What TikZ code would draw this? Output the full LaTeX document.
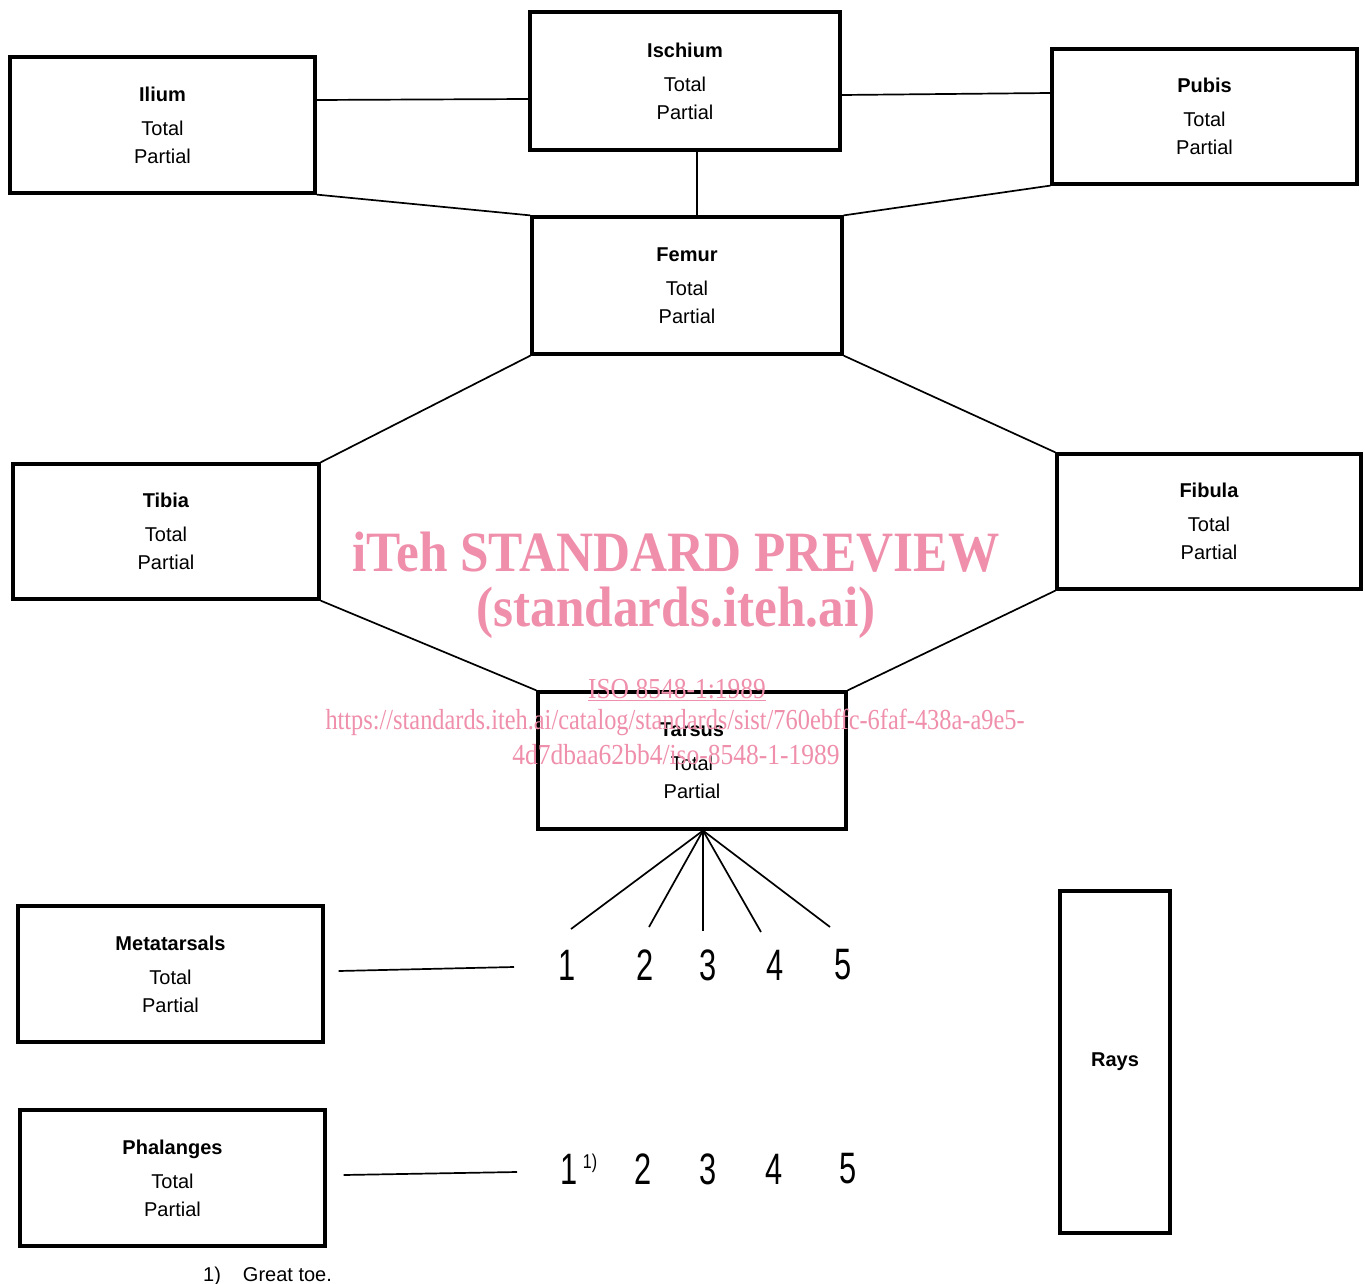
\documentclass[tikz,border=0pt]{standalone}
\usepackage{fontspec}
\setmainfont{Liberation Sans}
\newfontfamily\wmfont{Liberation Serif}
\usetikzlibrary{calc}
\definecolor{wm}{RGB}{239,143,171}
\newcommand\bxtext[1]{\textbf{#1}\\[6pt]Total\\Partial}
\begin{document}
\begin{tikzpicture}[x=1pt,y=-1pt,
 box/.style={draw, line width=3.2pt, inner sep=0pt, align=center, font=\fontsize{20}{28}\selectfont},
 link/.style={line width=1.7pt},
 num/.style={font=\fontsize{44}{44}\selectfont, inner sep=0pt},
 wmbig/.style={text=wm, inner sep=0pt, font=\wmfont\bfseries\fontsize{57}{60}\selectfont},
 wmsmall/.style={text=wm, inner sep=0pt, font=\wmfont\fontsize{29}{30}\selectfont}]
\useasboundingbox[fill=white] (0,0) rectangle (1365,1284);

% boxes
\node[box, minimum width=305pt, minimum height=136pt] (ilium) at (162.5,125) {\bxtext{Ilium}};
\node[box, minimum width=310pt, minimum height=138pt] (ischium) at (685,81) {\bxtext{Ischium}};
\node[box, minimum width=305pt, minimum height=135pt] (pubis) at (1204.5,116.5) {\bxtext{Pubis}};
\node[box, minimum width=310pt, minimum height=137pt] (femur) at (687,285.5) {\bxtext{Femur}};
\node[box, minimum width=306pt, minimum height=135pt] (tibia) at (166,531.5) {\bxtext{Tibia}};
\node[box, minimum width=304pt, minimum height=135pt] (fibula) at (1209,521.5) {\bxtext{Fibula}};
\node[box, minimum width=308pt, minimum height=137pt] (tarsus) at (692,760.5) {\bxtext{Tarsus}};
\node[box, minimum width=305pt, minimum height=136pt] (meta) at (170.5,974) {\bxtext{Metatarsals}};
\node[box, minimum width=305pt, minimum height=136pt] (phal) at (172.5,1178) {\bxtext{Phalanges}};
\node[box, minimum width=110pt, minimum height=342pt] (rays) at (1115,1062) {\textbf{Rays}};

% connectors between boxes
\draw[link] ([yshift=25pt]ilium.east) -- ([yshift=-18pt]ischium.west);
\draw[link] ([yshift=-14pt]ischium.east) -- ([yshift=23.5pt]pubis.west);
\draw[link] ([xshift=12pt]ischium.south) -- ([xshift=10pt]femur.north);
\draw[link] (ilium.south east) -- (femur.north west);
\draw[link] (pubis.south west) -- (femur.north east);
\draw[link] (femur.south west) -- (tibia.north east);
\draw[link] (femur.south east) -- (fibula.north west);
\draw[link] (tibia.south east) -- (tarsus.north west);
\draw[link] (fibula.south west) -- (tarsus.north east);

% fan from tarsus
\coordinate (fan) at ([xshift=11pt]tarsus.south);
\coordinate (t1) at (571,929);
\coordinate (t2) at (649,927);
\coordinate (t3) at (703,931);
\coordinate (t4) at (761,932);
\coordinate (t5) at (830,927);
\foreach \i in {1,...,5} \draw[link] (fan) -- (t\i);

% numbers row 1 (metatarsals)
\node[num] (n1) at (567,965) {\scalebox{0.7}[1]{1}};
\node[num] (n2) at (645,965) {\scalebox{0.7}[1]{2}};
\node[num] (n3) at (708,965) {\scalebox{0.7}[1]{3}};
\node[num] (n4) at (775,965) {\scalebox{0.7}[1]{4}};
\node[num] (n5) at (843,965) {\scalebox{0.7}[1]{5}};

% numbers row 2 (phalanges)
\node[num] (m1) at (569,1169) {\scalebox{0.7}[1]{1}};
\node[inner sep=0pt, anchor=north west, font=\fontsize{20}{20}\selectfont] (m1s) at ([xshift=5pt]m1.north east) {\scalebox{0.8}[1]{1)}};
\node[num] (m2) at (643,1169) {\scalebox{0.7}[1]{2}};
\node[num] (m3) at (708,1169) {\scalebox{0.7}[1]{3}};
\node[num] (m4) at (774,1169) {\scalebox{0.7}[1]{4}};
\node[num] (m5) at (848,1169) {\scalebox{0.7}[1]{5}};

% lines from boxes to number rows
\coordinate (mend) at (514,967);
\coordinate (pend) at (517,1172);
\draw[link] ([shift={(14pt,3pt)}]meta.east) -- (mend);
\draw[link] ([shift={(17pt,3pt)}]phal.east) -- (pend);

% footnote
\node[inner sep=0pt, anchor=base west, font=\fontsize{20}{20}\selectfont] (fn) at (203,1281) {1)\hspace{22pt}Great toe.};

% watermark
\node[wmbig] (wm1) at (676,552) {\scalebox{0.9}[1]{iTeh STANDARD PREVIEW}};
\node[wmbig] (wm2) at (676,613) {\scalebox{0.9}[1]{(standards.iteh.ai)}};
\node[wmsmall] (wm3) at (677,690) {\scalebox{0.88}[1]{\underline{ISO 8548-1:1989}}};
\node[wmsmall] (wm4) at (675,722) {\scalebox{0.84}[1]{https://standards.iteh.ai/catalog/standards/sist/760ebffc-6faf-438a-a9e5-}};
\node[wmsmall] (wm5) at (676,755) {\scalebox{0.88}[1]{4d7dbaa62bb4/iso-8548-1-1989}};
\end{tikzpicture}
\end{document}
